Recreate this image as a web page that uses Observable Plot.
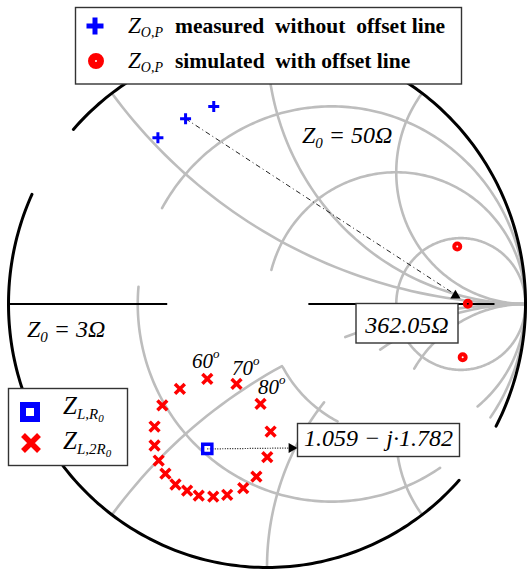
<!DOCTYPE html>
<html><head><meta charset="utf-8">
<script src="https://cdn.jsdelivr.net/npm/d3@7"></script>
<script src="https://cdn.jsdelivr.net/npm/@observablehq/plot@0.6"></script>
<style>
html,body{margin:0;padding:0;background:#fff;}
#chart{position:relative;width:530px;height:569px;}
svg text{font-family:"Liberation Serif","Times New Roman",serif;}
</style></head><body><div id="chart"></div>
<script>
// ---- data (reflection coefficient plane, Re / Im) ----
const measuredRe = [-0.422, -0.315, -0.206];
const measuredIm = [0.631, 0.703, 0.750];
const simulatedRe = [0.736, 0.777, 0.757];
const simulatedIm = [0.218, 0.001, -0.202];
const loadR0Re = [-0.231];
const loadR0Im = [-0.550];
const load2R0Re = [-0.231,-0.118,-0.025,0.014,0.001,-0.041,-0.092,-0.154,-0.208,-0.264,-0.309,-0.354,-0.393,-0.419,-0.435,-0.435,-0.405,-0.337];
const load2R0Im = [-0.284,-0.303,-0.379,-0.484,-0.581,-0.655,-0.699,-0.724,-0.731,-0.727,-0.708,-0.685,-0.644,-0.594,-0.537,-0.465,-0.385,-0.322];
const arrow1End = [0.729, 0.032];
const arrow2End = [0.095, -0.5465];
// Smith grid: constant resistance / reactance arcs (angle ranges in degrees)
const rGridVals = [1/3, 1/3, 1, 1, 3];
const rGridFrom = [-35, 175, -51, 208.7, 0];
const rGridTo   = [151, 304, 165, 243, 360];
const xGridVals = [0.5, 1, 2, -0.5, -0.5, -1, -1, -2, -2];
const xGridFrom = [-143.1, -180, -216.9, 90, 118.1, 90, 141.2, 90, 175];
const xGridTo   = [-90, -90, -90, 110.4, 142.9, 124.2, 180, 149.4, 216.9];
const outerFrom = [-27.6, 155.4];
const outerTo   = [138.5, 318];
const axisBlackFrom = [-1, 0.16];
const axisBlackTo   = [-0.386, 0.88];
const degreeLabels = ["60", "70", "80"];

// ---- geometry helpers ----
function arc(id, cu, cv, R, a0, a1, out) {
  const n = Math.max(10, Math.ceil(Math.abs(a1 - a0)));
  for (let i = 0; i <= n; i++) {
    const t = (a0 + (a1 - a0) * i / n) * Math.PI / 180;
    const u = cu + R * Math.cos(t), v = cv + R * Math.sin(t);
    if (u * u + v * v > 1.0008) continue;
    out.push({id, u, v});
  }
}
const grid = [];
rGridVals.forEach((r, i) => arc("r" + i, r / (1 + r), 0, 1 / (1 + r), rGridFrom[i], rGridTo[i], grid));
xGridVals.forEach((x, i) => arc("x" + i, 1, 1 / x, 1 / Math.abs(x), xGridFrom[i], xGridTo[i], grid));
const outer = [];
outerFrom.forEach((a, i) => arc("o" + i, 0, 0, 1, a, outerTo[i], outer));

const measured = measuredRe.map((u, i) => ({u, v: measuredIm[i]}));
const simulated = simulatedRe.map((u, i) => ({u, v: simulatedIm[i]}));
const load1 = loadR0Re.map((u, i) => ({u, v: loadR0Im[i]}));
const load2 = load2R0Re.map((u, i) => ({u, v: load2R0Im[i]}));
const axisBlack = axisBlackFrom.map((a, i) => ({a, b: axisBlackTo[i]}));

const plusSym = {draw(c, size) { const s = Math.sqrt(size / Math.PI); c.moveTo(-s, 0); c.lineTo(s, 0); c.moveTo(0, -s); c.lineTo(0, s); }};
const timesSym = {draw(c, size) { const s = Math.sqrt(size / Math.PI); c.moveTo(-s, -s); c.lineTo(s, s); c.moveTo(-s, s); c.lineTo(s, -s); }};
const squareSym = {draw(c, size) { const s = Math.sqrt(size / Math.PI); c.rect(-s, -s, 2 * s, 2 * s); }};

const plot = Plot.plot({
  width: 530, height: 569,
  marginLeft: 8, marginRight: 5, marginTop: 40, marginBottom: 2,
  x: {domain: [-1, 1], axis: null},
  y: {domain: [-1, 1], axis: null},
  style: {background: "white", overflow: "visible"},
  marks: [
    Plot.line(grid, {x: "u", y: "v", z: "id", stroke: "#bdbdbd", strokeWidth: 2.6}),
    Plot.link([{a: 0.88, b: 1}], {x1: "a", x2: "b", y1: () => 0, y2: () => 0, stroke: "#bdbdbd", strokeWidth: 2.6}),
    Plot.line(outer, {x: "u", y: "v", z: "id", stroke: "black", strokeWidth: 3}),
    Plot.link(axisBlack, {x1: "a", x2: "b", y1: () => 0, y2: () => 0, stroke: "black", strokeWidth: 2}),
    Plot.link([0], {x1: () => measuredRe[1], y1: () => measuredIm[1], x2: () => arrow1End[0] - 0.01, y2: () => arrow1End[1] + 0.01, stroke: "#222", strokeWidth: 1, strokeDasharray: "5,3,1,3"}),
    Plot.dot([arrow1End], {x: d => d[0], y: d => d[1], symbol: "triangle", r: 3.8, fill: "black"}),
    Plot.link([0], {x1: () => loadR0Re[0], y1: () => loadR0Im[0], x2: () => arrow2End[0], y2: () => arrow2End[1], stroke: "#111", strokeWidth: 1.2, strokeDasharray: "1,1.5"}),
    Plot.dot([arrow2End], {x: d => d[0], y: d => d[1], symbol: "triangle", r: 3.8, fill: "black", rotate: 90}),
    Plot.dot(load2, {x: "u", y: "v", symbol: timesSym, r: 4.9, stroke: "#ff0000", strokeWidth: 3.5, fill: "none"}),
    Plot.dot(load1, {x: "u", y: "v", symbol: squareSym, r: 4.6, stroke: "#0000ff", strokeWidth: 3.4, fill: "none"}),
    Plot.dot(measured, {x: "u", y: "v", symbol: plusSym, r: 5.5, stroke: "#0000ff", strokeWidth: 3, fill: "none"}),
    Plot.dot(simulated, {x: "u", y: "v", r: 3, stroke: "#ff0000", strokeWidth: 4, fill: "none"})
  ]
});
document.getElementById("chart").appendChild(plot);

// ---- legends and annotation boxes ----
const svg = d3.select(plot);
const g = svg.append("g").attr("text-anchor", "start");
function box(x, y, w, h) { g.append("rect").attr("x", x).attr("y", y).attr("width", w).attr("height", h).attr("fill", "white").attr("stroke", "#333").attr("stroke-width", 1.4); }
function txt(x, y, size, str, opts = {}) {
  const t = g.append("text").attr("x", x).attr("y", y).attr("font-size", size).attr("text-anchor", opts.anchor || "start").style("white-space", "pre").text(str);
  if (opts.italic !== false) t.attr("font-style", "italic");
  if (opts.bold) t.attr("font-weight", "bold");
  return t;
}
// math label built from pieces: [text, fontSize, dy]
function math(x, y, parts) {
  const t = g.append("text").attr("x", x).attr("y", y).attr("font-style", "italic").attr("text-anchor", "start").style("white-space", "pre");
  parts.forEach(([s, fs, dy]) => t.append("tspan").attr("font-size", fs).attr("dy", dy || 0).text(s));
  return t;
}
// legend 1
box(75.5, 7.5, 386, 76.5);
g.append("path").attr("d", "M86.5,26H103.5M95,17.5V34.5").attr("stroke", "#0000ff").attr("stroke-width", 5);
g.append("circle").attr("cx", 96).attr("cy", 61).attr("r", 4.5).attr("fill", "none").attr("stroke", "#ff0000").attr("stroke-width", 7);
math(128, 33, [["Z", 23], ["O,P", 14, 4]]);
txt(175, 33, 21.5, "measured  without  offset line", {italic: false, bold: true});
math(128, 68, [["Z", 23], ["O,P", 14, 4]]);
txt(175, 68, 21.5, "simulated  with offset line", {italic: false, bold: true});
// legend 2
box(8.5, 388.5, 119, 77);
g.append("rect").attr("x", 23).attr("y", 405).attr("width", 14).attr("height", 14).attr("fill", "none").attr("stroke", "#0000ff").attr("stroke-width", 6);
g.append("path").attr("d", "M23,435L39,451M23,451L39,435").attr("stroke", "#ff0000").attr("stroke-width", 5.5);
math(63, 414, [["Z", 25], ["L,R", 15, 5], ["0", 11, 3]]);
math(63, 449, [["Z", 25], ["L,2R", 15, 5], ["0", 11, 3]]);
// annotation boxes
box(356, 303.5, 102, 39.5);
txt(407, 333, 24, "362.05\u03A9", {anchor: "middle"});
box(297.5, 423.5, 162, 33);
txt(378.5, 446, 24, "1.059 \u2212 j\u00B71.782", {anchor: "middle"});
// Z0 labels
math(302, 143, [["Z", 24], ["0", 15, 5], [" = 50\u03A9", 24, -5]]);
math(27, 337, [["Z", 24], ["0", 15, 5], [" = 3\u03A9", 24, -5]]);
// degree labels
const degPos = [[192, 368], [232, 375], [258, 394]];
degreeLabels.forEach((d, i) => math(degPos[i][0], degPos[i][1], [[d, 21], ["o", 13, -10]]));
</script></body></html>
